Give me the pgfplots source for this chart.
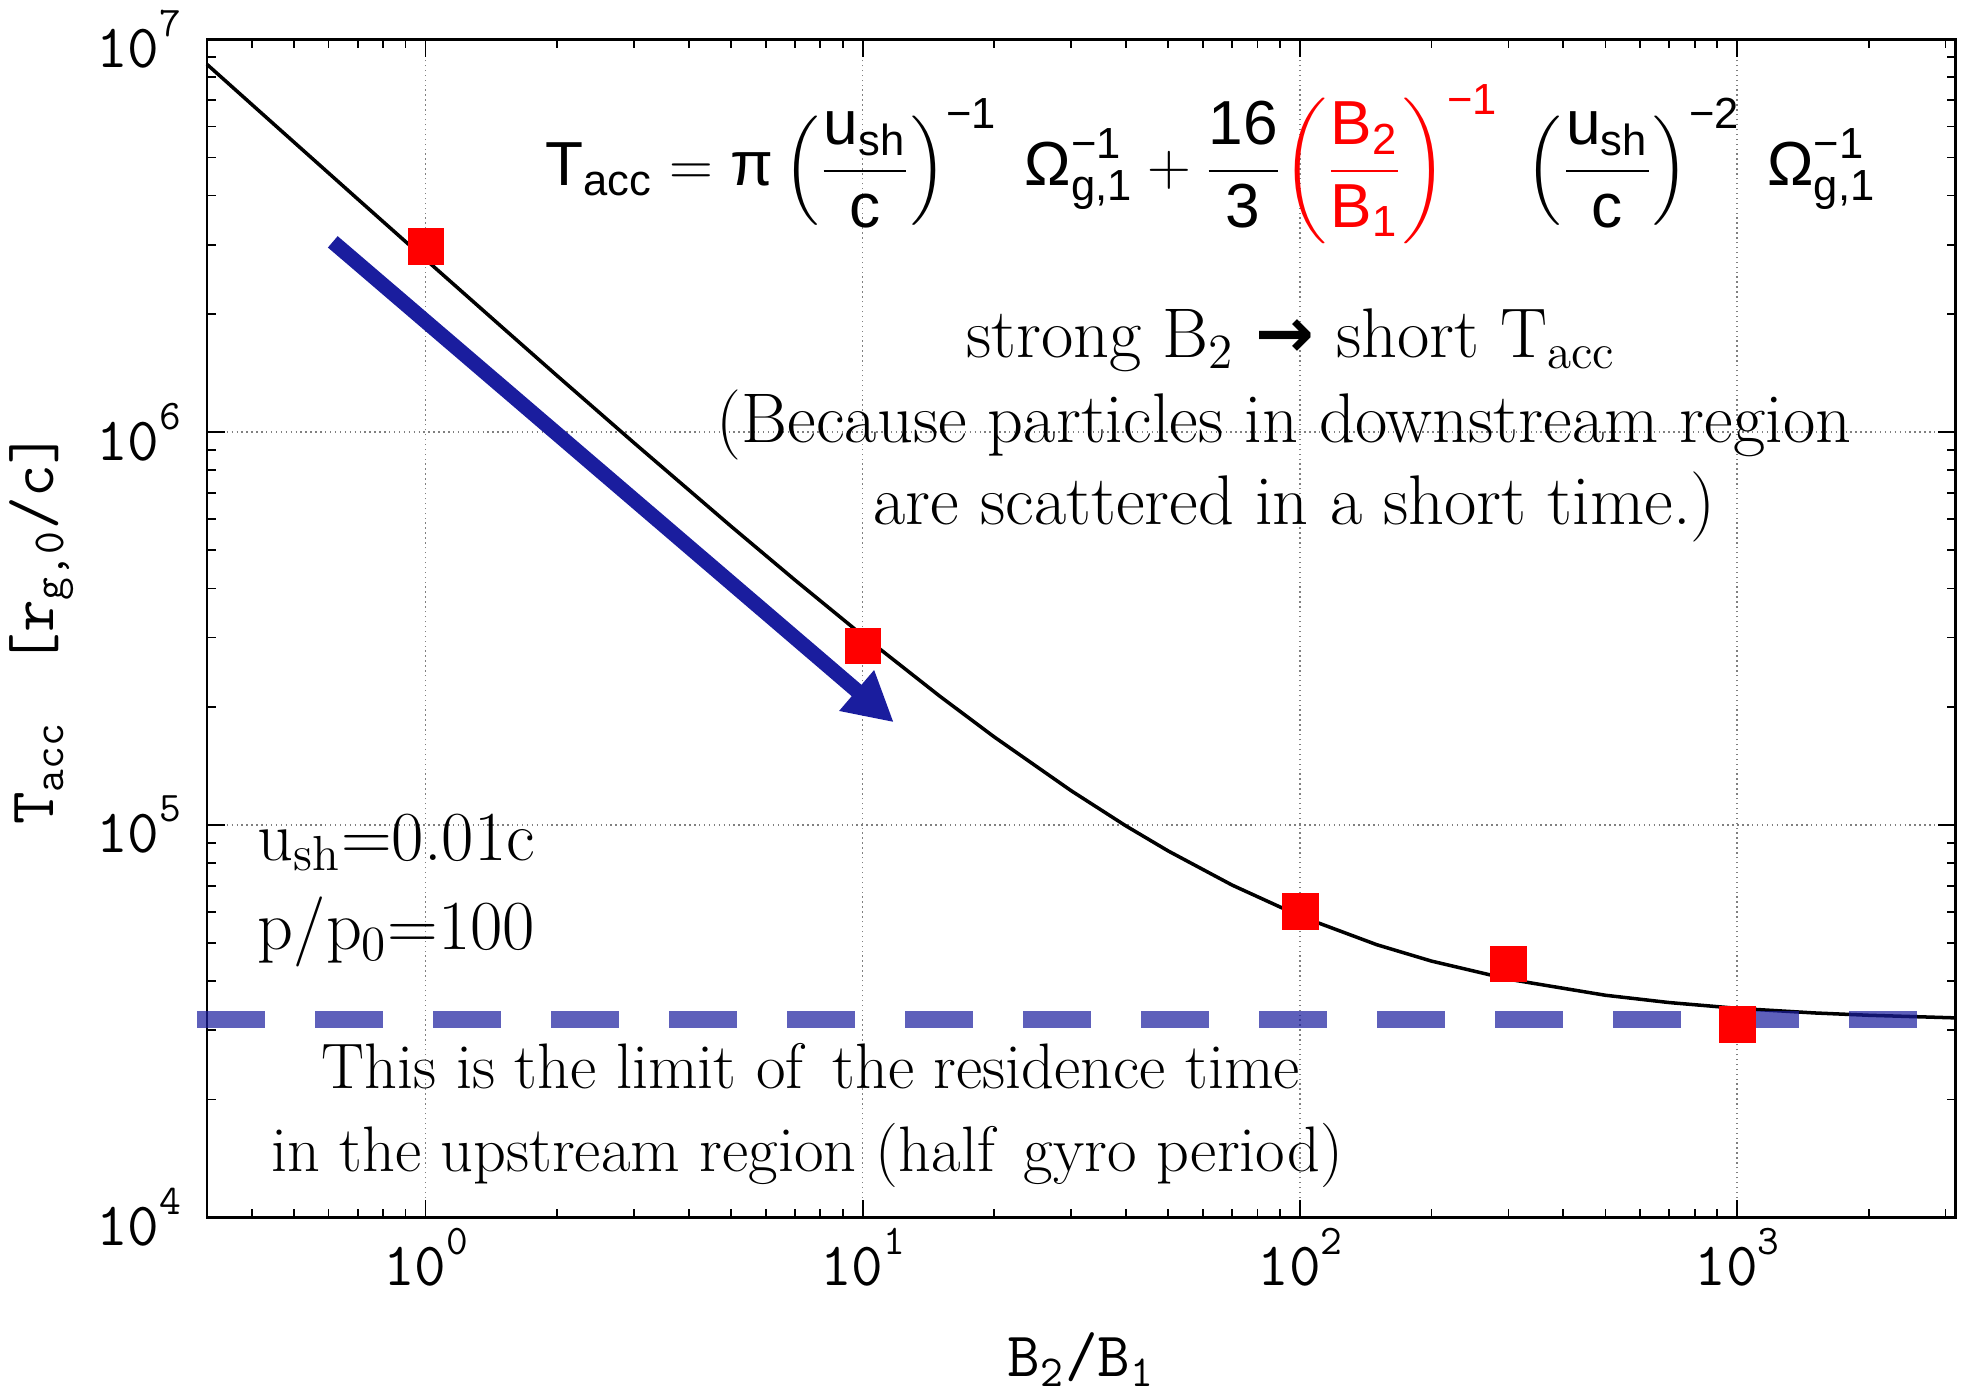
\documentclass[border=0pt]{standalone}
\usepackage{amsmath}
\usepackage{fontspec}
\usepackage{pgfplots}
\pgfplotsset{compat=1.18}
\usetikzlibrary{arrows.meta}
\newfontfamily\ff{Liberation Sans}
\newfontfamily\dv{DejaVu Sans}
\definecolor{navy}{RGB}{26,29,158}
\newcommand\F[1]{\text{\ff #1}}
\newcommand\tl[1]{{\ttfamily\fontsize{17.5}{18}\selectfont 10\raisebox{3.1mm}{\fontsize{12}{12}\selectfont #1}}}
\begin{document}
\begin{tikzpicture}
\useasboundingbox (-20.7mm,-17.33mm) rectangle (176.1mm,121.77mm);
\begin{axis}[
  xmode=log, ymode=log,
  scale only axis, width=174.86mm, height=117.84mm,
  xmin=0.316228, xmax=3162.28, ymin=1e4, ymax=1e7,
  axis line style={line width=0.8pt},
  every tick/.style={black, line width=0.5pt},
  major tick length=1.8mm, minor tick length=0.9mm,
  tick align=inside,
  xtick={1,10,100,1000}, xticklabels={\tl{0},\tl{1},\tl{2},\tl{3}},
  ytick={1e4,1e5,1e6,1e7}, yticklabels={\tl{4},\tl{5},\tl{6},\tl{7}},
  minor xtick={0.4,0.5,0.6,0.7,0.8,0.9,2,3,4,5,6,7,8,9,20,30,40,50,60,70,80,90,200,300,400,500,600,700,800,900,2000,3000},
  minor ytick={2e4,3e4,4e4,5e4,6e4,7e4,8e4,9e4,2e5,3e5,4e5,5e5,6e5,7e5,8e5,9e5,2e6,3e6,4e6,5e6,6e6,7e6,8e6,9e6},
  grid=major, major grid style={densely dotted, gray, line width=0.4pt},
  xticklabel style={anchor=north, inner sep=0pt, yshift=-1mm},
  yticklabel style={anchor=east, inner sep=0pt, xshift=-2.5mm},
  xlabel={B\textsubscript{2}/B\textsubscript{1}},
  ylabel={T\textsubscript{acc}\hspace{0.9em}[r\textsubscript{g,0}/c]},
  label style={font=\ttfamily\fontsize{18}{18}\selectfont},
  xlabel style={at={(axis description cs:0.5,-0.1352)}, anchor=base},
  ylabel style={at={(axis description cs:-0.0875,0.5)}, anchor=base},
  clip=false,
]
\addplot[black, line width=1pt] coordinates {
(0.3162,8.633e6)(0.4,6.831e6)(0.5,5.471e6)(0.7,3.917e6)(1,2.751e6)
(1.5,1.845e6)(2,1.391e6)(3,9.381e5)(5,5.754e5)(7,4.200e5)(10,3.034e5)
(15,2.127e5)(20,1.674e5)(30,1.221e5)(40,9.94e4)(50,8.58e4)(70,7.026e4)
(100,5.86e4)(150,4.953e4)(200,4.50e4)(300,4.047e4)(500,3.684e4)
(700,3.529e4)(1000,3.412e4)(1500,3.321e4)(2000,3.276e4)(3162,3.226e4)};
\addplot[red, only marks, mark=square*, mark size=1.78mm, mark options={fill=red, draw=red, line width=0.1pt}] coordinates {
(1,2.97e6)(10,2.86e5)(100,6.04e4)(300,4.43e4)(1000,3.11e4)};
\addplot[navy, opacity=0.7, line width=1.7mm, dash pattern=on 6.8mm off 5.0mm] coordinates {
(0.3004,3.2e4)(3162,3.2e4)};
\addplot[navy, line width=1.5mm, -{Triangle[length=4.9mm,width=5mm]}] coordinates {
(0.6134,3.05e6)(11.78,1.824e5)};
\node[anchor=base] at (axis description cs:0.574,0.8755) {\fontsize{17.7}{22}\selectfont
$\displaystyle \F{T}_{\F{acc}} = \F{π}\left(\frac{\F{u}_{\F{sh}}}{\F{c}}\right)^{\F{−1}}\;\F{Ω}_{\F{g,1}}^{\F{−1}} + \frac{\F{16}}{\F{3}}{\color{red}\left(\frac{\F{B}_{\F{2}}}{\F{B}_{\F{1}}}\right)^{\F{−1}}}\;\left(\frac{\F{u}_{\F{sh}}}{\F{c}}\right)^{\F{−2}}\;\F{Ω}_{\F{g,1}}^{\F{−1}}$};
\begin{scope}[every node/.style={font=\fontsize{20}{24}\selectfont}]
\node[anchor=base] at (axis description cs:0.620,0.7296) {strong B\textsubscript{2} {\dv\bfseries →} short T\textsubscript{acc}};
\node[anchor=base] at (axis description cs:0.616,0.658) {(Because particles in downstream region};
\node[anchor=base] at (axis description cs:0.622,0.588) {are scattered in a short time.)};
\node[anchor=base west] at (axis description cs:0.022,0.3035) {u\textsubscript{sh}=0.01c};
\node[anchor=base west] at (axis description cs:0.022,0.2272) {p/p\textsubscript{0}=100};
\end{scope}
\begin{scope}[every node/.style={font=\fontsize{18.3}{22}\selectfont}]
\node[anchor=base] at (axis description cs:0.3454,0.110) {This is the limit of\hspace{0.15em} the residence time};
\node[anchor=base] at (axis description cs:0.3431,0.0396) {in the upstream region (half\hspace{0.15em} gyro period)};
\end{scope}
\end{axis}
\end{tikzpicture}
\end{document}
